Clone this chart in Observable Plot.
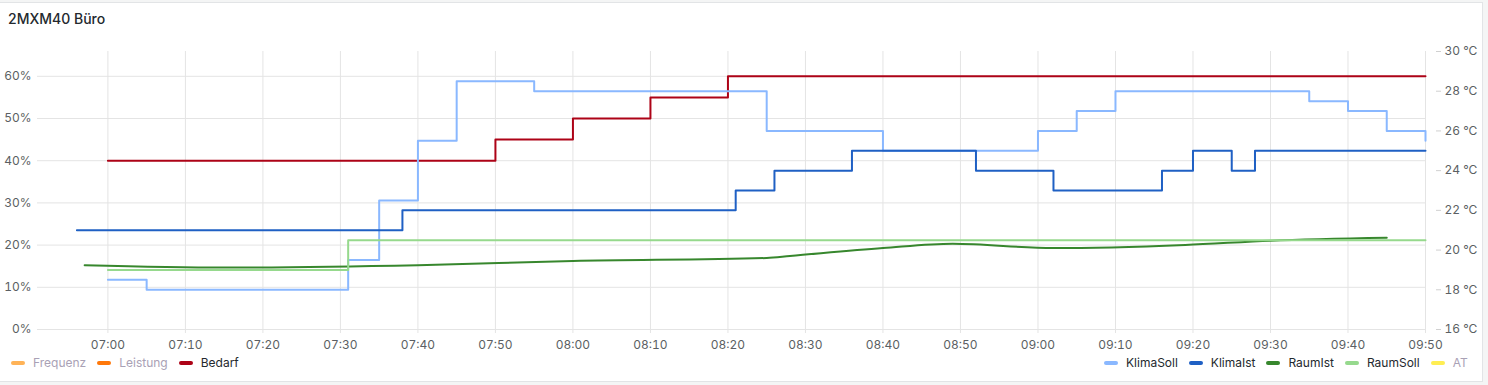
<!DOCTYPE html>
<html><head><meta charset="utf-8">
<script src="https://cdn.jsdelivr.net/npm/d3@7"></script>
<script src="https://cdn.jsdelivr.net/npm/@observablehq/plot@0.6"></script>
<style>
html,body{margin:0;padding:0;background:#f4f5f5;width:1488px;height:385px;overflow:hidden;font-family:Inter,"Noto Sans",sans-serif;}
#panel{position:absolute;left:-1px;top:2px;width:1482px;height:378px;background:#fff;border:1px solid #e2e4e6;}
#title{position:absolute;left:8px;top:9px;font-size:14px;font-weight:500;color:#24292e;line-height:20px;}
#chart{position:absolute;left:0;top:40px;}
.legend{position:absolute;top:355px;display:flex;align-items:center;font-size:12px;line-height:16px;white-space:nowrap;}
.item{display:flex;align-items:center;margin-right:11px;}
.item:last-child{margin-right:0;}
.sw{width:14px;height:4px;border-radius:2px;margin-right:8px;}
</style>
</head><body>
<div id="panel"></div>
<div id="title">2MXM40 Büro</div>
<div id="chart"></div>
<div class="legend" id="legLeft" style="left:11px"></div>
<div class="legend" id="legRight" style="left:1104px"></div>
<script>
// ---- data ----
const day = "2024-01-15";
const xStart = "06:50:55";
const xEnd = "09:50:00";
const timeTicks = ["07:00","07:10","07:20","07:30","07:40","07:50","08:00","08:10","08:20","08:30","08:40","08:50","09:00","09:10","09:20","09:30","09:40","09:50"];
const pctTicks = [0,10,20,30,40,50,60];
const tempTicks = [16,18,20,22,24,26,28,30];

const bedarfTimes = ["07:00","07:50","08:00","08:10","08:20","09:50"];
const bedarfValues = [40,45,50,55,60,60];

const klimaSollTimes = ["07:00","07:05","07:31","07:35","07:40","07:45","07:55","08:25","08:40","09:00","09:05","09:10","09:35","09:40","09:45","09:50"];
const klimaSollValues = [18.5,18,19.5,22.5,25.5,28.5,28,26,25,26,27,28,27.5,27,26,25.5];

const klimaIstTimes = ["06:56","07:38","08:21","08:26","08:36","08:52","09:02","09:16","09:20","09:25","09:28","09:50"];
const klimaIstValues = [21,22,23,24,25,24,23,24,25,24,25,25];

const raumIstTimes = ["06:57","07:15","07:40","08:00","08:25","08:28","08:40","08:49","09:02","09:19","09:30","09:45"];
const raumIstValues = [19.24,19.12,19.24,19.45,19.6,19.7,20.1,20.32,20.1,20.26,20.47,20.62];

const raumSollTimes = ["07:00","07:31","09:50"];
const raumSollValues = [19,20.5,20.5];

const leftLegend = [["Frequenz","#FFB357",false],["Leistung","#FF780A",false],["Bedarf","#AD0317",true]];
const rightLegend = [["KlimaSoll","#8AB8FF",true],["KlimaIst","#1F60C4",true],["RaumIst","#37872D",true],["RaumSoll","#96D98D",true],["AT","#FFEE52",false]];

// ---- scales helpers ----
const parse = d3.timeParse("%Y-%m-%d %H:%M:%S");
const t = s => parse(day + " " + (s.length === 5 ? s + ":00" : s));
const pMax = 65.88, tMin = 16, tMax = 30;
const toP = T => (T - tMin) / (tMax - tMin) * pMax;
const fromP = p => tMin + p / pMax * (tMax - tMin);

const series = (times, values, temp) => times.map((s, i) => ({x: t(s), y: temp ? toP(values[i]) : values[i]}));

const grid = "#e4e4e4";
const sw = 2;

const chart = Plot.plot({
  width: 1488, height: 315,
  marginTop: 11, marginBottom: 26, marginLeft: 37, marginRight: 63,
  style: {fontFamily: "Inter, 'Noto Sans', sans-serif", fontSize: "12px", color: "#5b5f63", background: "transparent", overflow: "visible"},
  x: {type: "time", domain: [t(xStart), t(xEnd)], label: null},
  y: {domain: [0, pMax], label: null},
  marks: [
    Plot.gridY(pctTicks, {stroke: grid, strokeOpacity: 1}),
    Plot.gridX(timeTicks.map(t), {stroke: grid, strokeOpacity: 1, insetBottom: -4}),
    Plot.axisY(pctTicks, {anchor: "left", tickSize: 0, tickPadding: 6, tickFormat: d => d + "%", label: null}),
    Plot.axisY(tempTicks.map(toP), {anchor: "right", tickSize: 5, tickPadding: 4, dx: 10, stroke: "#d0d0d0", tickFormat: d => Math.round(fromP(d)) + " °C", label: null}),
    Plot.axisX(timeTicks.map(t), {anchor: "bottom", tickSize: 0, tickPadding: 11, tickFormat: d3.timeFormat("%H:%M"), label: null}),
    Plot.line(series(bedarfTimes, bedarfValues, false), {x: "x", y: "y", stroke: "#AD0317", strokeWidth: sw, curve: "step-after"}),
    Plot.line(series(klimaSollTimes, klimaSollValues, true), {x: "x", y: "y", stroke: "#8AB8FF", strokeWidth: sw, curve: "step-after"}),
    Plot.line(series(klimaIstTimes, klimaIstValues, true), {x: "x", y: "y", stroke: "#1F60C4", strokeWidth: sw, curve: "step-after"}),
    Plot.line(series(raumIstTimes, raumIstValues, true), {x: "x", y: "y", stroke: "#37872D", strokeWidth: sw, curve: "monotone-x"}),
    Plot.line(series(raumSollTimes, raumSollValues, true), {x: "x", y: "y", stroke: "#96D98D", strokeWidth: sw, curve: "step-after"})
  ]
});
document.getElementById("chart").appendChild(chart);

function legend(el, items) {
  for (const [name, color, on] of items) {
    const it = document.createElement("div");
    it.className = "item";
    const s = document.createElement("div");
    s.className = "sw"; s.style.background = color;
    const tx = document.createElement("span");
    tx.textContent = name;
    tx.style.color = on ? "#24292e" : "#a9a1b5";
    it.appendChild(s); it.appendChild(tx);
    el.appendChild(it);
  }
}
legend(document.getElementById("legLeft"), leftLegend);
legend(document.getElementById("legRight"), rightLegend);
</script>
</body></html>
